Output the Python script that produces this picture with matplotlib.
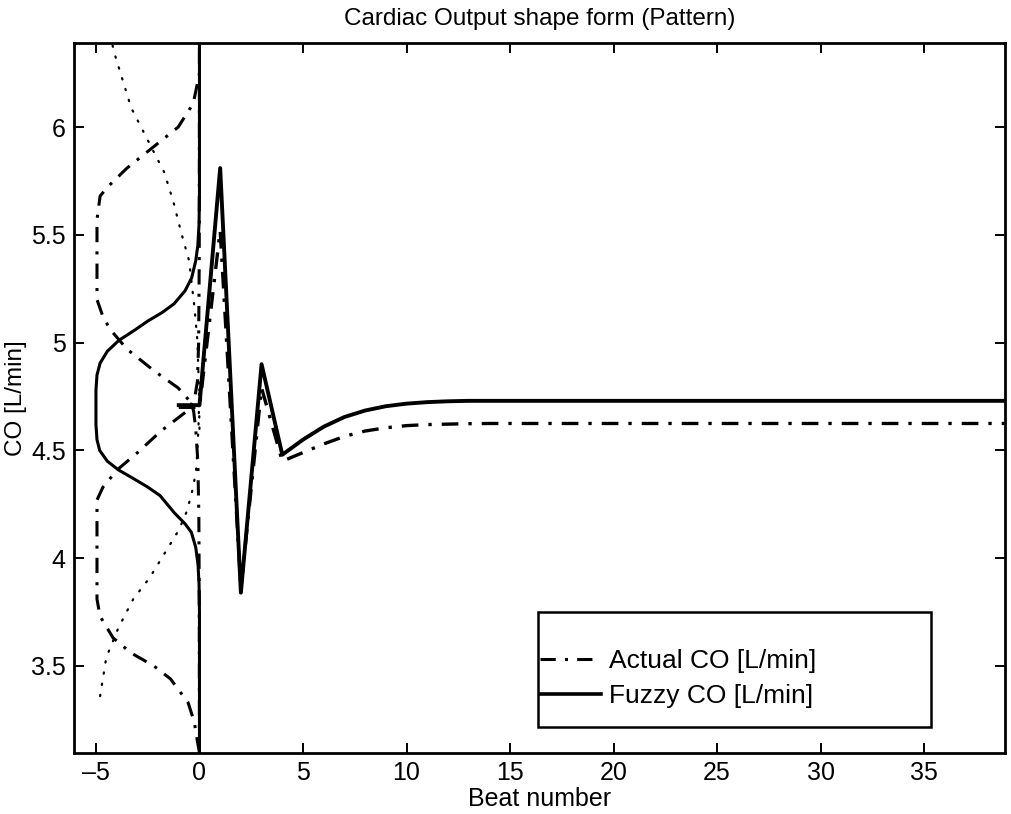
import matplotlib
matplotlib.use("Agg")
import matplotlib.pyplot as plt
from matplotlib.patches import Rectangle
from matplotlib.lines import Line2D

plt.rcParams['font.family'] = ['Liberation Sans', 'DejaVu Sans']

# ---- beat-by-beat cardiac output ----
beats = list(range(-1, 40))
actual_co = [4.70, 4.70, 5.52, 3.86, 4.79, 4.45, 4.49, 4.53, 4.565, 4.59, 4.605,
             4.615, 4.62, 4.622, 4.624, 4.625, 4.625, 4.625, 4.625, 4.625, 4.625,
             4.625, 4.625, 4.625, 4.625, 4.625, 4.625, 4.625, 4.625, 4.625, 4.625,
             4.625, 4.625, 4.625, 4.625, 4.625, 4.625, 4.625, 4.625, 4.625, 4.625]
fuzzy_co = [4.71, 4.71, 5.81, 3.84, 4.90, 4.48, 4.55, 4.61, 4.655, 4.685, 4.705,
            4.717, 4.724, 4.728, 4.73, 4.73, 4.73, 4.73, 4.73, 4.73, 4.73,
            4.73, 4.73, 4.73, 4.73, 4.73, 4.73, 4.73, 4.73, 4.73, 4.73,
            4.73, 4.73, 4.73, 4.73, 4.73, 4.73, 4.73, 4.73, 4.73, 4.73]

# ---- membership functions over CO, drawn sideways (x = -5 * degree) ----
mf_mid_co = [3.10, 3.75, 3.88, 3.97, 4.05, 4.12, 4.16, 4.21, 4.29, 4.33, 4.37,
             4.41, 4.45, 4.50, 4.55, 4.62, 4.78, 4.85, 4.905, 4.96, 5.01,
             5.06, 5.10, 5.14, 5.18, 5.24, 5.30, 5.38, 5.45, 5.55, 5.70, 6.40]
mf_mid_x = [0.0, 0.0, -0.02, -0.07, -0.18, -0.39, -0.70, -1.21, -1.90, -2.50, -3.20,
            -3.92, -4.45, -4.82, -4.95, -5.0, -5.0, -4.95, -4.80, -4.45, -3.90,
            -3.10, -2.50, -1.80, -1.23, -0.70, -0.38, -0.18, -0.08, -0.02, 0.0, 0.0]

mf_hi_co = [3.10, 3.80, 4.20, 4.45, 4.60, 4.68, 4.72, 4.79, 4.87, 4.97, 5.06,
            5.12, 5.20, 5.57, 5.68, 5.72, 5.81, 5.91, 6.00, 6.11, 6.25, 6.40]
mf_hi_x = [0.0, -0.01, -0.03, -0.08, -0.18, -0.28, -0.39, -1.03, -2.20, -3.50, -4.30,
           -4.66, -4.95, -4.95, -4.80, -4.46, -3.50, -2.20, -1.03, -0.30, 0.0, 0.0]

mf_lo_co = [3.10, 3.15, 3.24, 3.33, 3.44, 3.50, 3.56, 3.63, 3.73, 3.81, 4.27,
            4.33, 4.41, 4.49, 4.59, 4.69, 4.75, 4.82, 5.00, 5.40, 6.40]
mf_lo_x = [0.0, -0.10, -0.25, -0.55, -1.40, -2.20, -3.30, -4.17, -4.80, -4.95, -4.95,
           -4.66, -3.97, -2.99, -1.86, -0.50, -0.22, -0.10, -0.04, -0.01, 0.0]

mf_top_co = [4.60, 4.80, 5.01, 5.17, 5.38, 5.51, 5.65, 5.79, 5.94, 6.09, 6.34, 6.40]
mf_top_x = [0.0, -0.03, -0.10, -0.25, -0.50, -0.88, -1.25, -1.70, -2.50, -3.30, -4.10, -4.25]

mf_bot_co = [3.36, 3.54, 3.68, 3.81, 3.91, 4.02, 4.13, 4.22, 4.33, 4.42, 4.60, 4.80]
mf_bot_x = [-4.80, -4.50, -3.90, -3.20, -2.40, -1.70, -1.00, -0.60, -0.30, -0.15, -0.05, 0.0]

legend_labels = ['Actual CO [L/min]', 'Fuzzy CO [L/min]']

x_ticks = [-5, 0, 5, 10, 15, 20, 25, 30, 35]
y_ticks = [3.5, 4, 4.5, 5, 5.5, 6]
y_ticklabels = ['3.5', '4', '4.5', '5', '5.5', '6']

fig = plt.figure(figsize=(10.11, 8.14), dpi=100)
ax = fig.add_axes([0.0732, 0.0749, 0.9209, 0.8722])

dashdot = (0, (5, 3, 1, 3))
dotted = (0, (0.6, 4.5))
ax.plot(mf_mid_x, mf_mid_co, color='black', lw=2.2, solid_joinstyle='round')
ax.plot(mf_hi_x, mf_hi_co, color='black', lw=2.2, linestyle=dashdot)
ax.plot(mf_lo_x, mf_lo_co, color='black', lw=2.2, linestyle=dashdot)
ax.plot(mf_top_x, mf_top_co, color='black', lw=1.6, linestyle=dotted,
        dash_capstyle='round')
ax.plot(mf_bot_x, mf_bot_co, color='black', lw=1.6, linestyle=dotted,
        dash_capstyle='round')

ax.plot(beats, actual_co, color='black', lw=2.4, linestyle=dashdot)
ax.plot(beats, fuzzy_co, color='black', lw=2.8)

ax.set_xlim(-6.06, 38.91)
ax.set_ylim(3.096, 6.39)
ax.set_xticks(x_ticks)
ax.set_xticklabels([f'{t}'.replace('-', '\u2013') for t in x_ticks])
ax.set_yticks(y_ticks)
ax.set_yticklabels(y_ticklabels)
ax.tick_params(direction='in', top=True, right=True, length=7, width=1.4,
               labelsize=18, pad=6)
for s in ax.spines.values():
    s.set_linewidth(2.0)

ax.set_title('Cardiac Output shape form (Pattern)', fontsize=17.5, pad=13)
ax.set_xlabel('Beat number', fontsize=18, labelpad=1)
ax.set_ylabel('CO [L/min]', fontsize=17.5, labelpad=3)

# legend box
ax.add_patch(Rectangle((0.498, 0.0366), 0.4225, 0.162, transform=ax.transAxes,
                       facecolor='white', edgecolor='black', lw=1.8, zorder=5))
handles = [Line2D([], [], color='black', lw=2.2, linestyle=dashdot),
           Line2D([], [], color='black', lw=2.6)]
leg = ax.legend(handles, legend_labels, loc='center left',
                bbox_to_anchor=(0.5005, 0.105), frameon=False, fontsize=19,
                handlelength=2.3, handletextpad=0.3, labelspacing=0.4,
                borderpad=0, borderaxespad=0)
leg.set_zorder(6)

fig.savefig('out.png', dpi=100)
